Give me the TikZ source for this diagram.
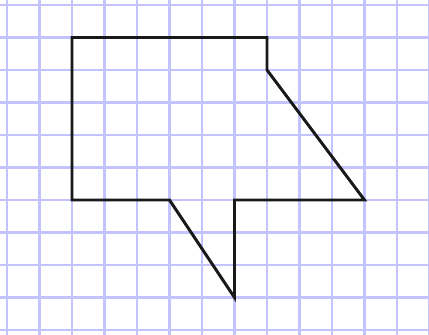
\documentclass[tikz,border=0pt]{standalone}
\definecolor{gridblue}{RGB}{195,195,255}
\tikzset{
  gridline/.style={draw=gridblue, line width=2.2pt},
  outline/.style={draw=black!90, line width=2.6pt, line join=miter}
}
\begin{document}
\begin{tikzpicture}
\clip (-0.2154,-10.1538) rectangle (12.9846,0.1538);
\fill[white] (-0.2154,-10.1538) rectangle (12.9846,0.1538);
\draw[gridline] (-1,-11) grid (14,1);
\coordinate (A) at (2,-1);
\coordinate (B) at (8,-1);
\coordinate (C) at (8,-2);
\coordinate (D) at (11,-6);
\coordinate (E) at (7,-6);
\coordinate (F) at (7,-9);
\coordinate (G) at (5,-6);
\coordinate (H) at (2,-6);
\draw[outline] (A) -- (B) -- (C) -- (D) -- (E) -- (F) -- (G) -- (H) -- cycle;
\end{tikzpicture}
\end{document}
